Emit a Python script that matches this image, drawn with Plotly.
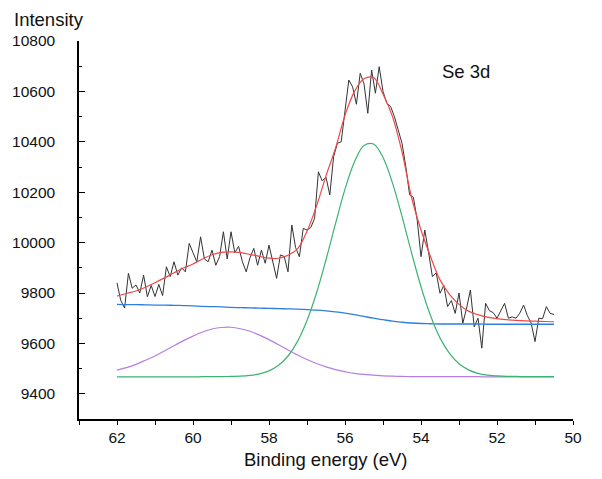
import numpy as np
import plotly.graph_objects as go

# Raw Se 3d spectrum, 62.0 -> 50.5 eV in 0.1 eV steps
raw_counts = [
    9840, 9770, 9740, 9878, 9819, 9832, 9800, 9871, 9785, 9830,
    9786, 9834, 9790, 9904, 9865, 9924, 9871, 9900, 9884, 9997,
    9960, 9924, 10023, 9935, 9924, 9970, 9910, 9945, 10043, 9935,
    10043, 9960, 9985, 9924, 9884, 9940, 9977, 9910, 9970, 9918,
    9990, 9930, 9858, 9951, 9945, 9884, 10070, 9980, 9944, 10056,
    10050, 10060, 10096, 10281, 10245, 10260, 10189, 10341, 10394, 10400,
    10513, 10645, 10618, 10549, 10672, 10630, 10513, 10685, 10593, 10698,
    10600, 10553, 10540, 10500, 10447, 10394, 10302, 10190, 10180, 10090,
    9944, 10050, 9960, 9865, 9880, 9799, 9830, 9746, 9770, 9719,
    9800, 9680, 9740, 9812, 9666, 9700, 9581, 9759, 9730, 9722,
    9700, 9732, 9759, 9700, 9705, 9700, 9720, 9752, 9710, 9680,
    9607, 9700, 9698, 9746, 9719, 9715,
]
raw_energy = np.round(np.linspace(62.0, 50.5, len(raw_counts)), 2)

# Fitted curves, 62.0 -> 50.5 eV in 0.25 eV steps
fit_envelope = [
    9788, 9798, 9808, 9823, 9841, 9860, 9880, 9899, 9915, 9935,
    9952, 9961, 9963, 9960, 9953, 9945, 9938, 9938, 9950, 9975,
    10045, 10145, 10265, 10375, 10505, 10600, 10650, 10655, 10590, 10500,
    10360, 10180, 10050, 9945, 9852, 9795, 9755, 9728, 9714, 9704,
    9698, 9694, 9691, 9689, 9688, 9687, 9686,
]
background = [
    9755, 9754, 9754, 9753, 9752, 9752, 9751, 9750, 9749, 9747,
    9746, 9745, 9743, 9742, 9741, 9740, 9739, 9738, 9737, 9736,
    9734, 9732, 9729, 9725, 9720, 9714, 9707, 9700, 9694, 9688,
    9684, 9681, 9679, 9678, 9677, 9677, 9677, 9677, 9677, 9676,
    9676, 9676, 9676, 9676, 9676, 9676, 9676,
]
peak_se_main = [
    9467, 9467, 9467, 9467, 9467, 9467, 9467, 9467, 9467, 9468,
    9468, 9468, 9469, 9470, 9473, 9479, 9491, 9513, 9550, 9608,
    9691, 9800, 9932, 10075, 10212, 10321, 10385, 10391, 10338, 10236,
    10104, 9960, 9825, 9711, 9622, 9560, 9519, 9495, 9481, 9474,
    9471, 9469, 9469, 9468, 9468, 9468, 9468,
]
peak_se_ox = [
    9494, 9504, 9517, 9533, 9550, 9570, 9591, 9611, 9629, 9645,
    9657, 9663, 9664, 9658, 9648, 9633, 9615, 9595, 9574, 9554,
    9536, 9520, 9507, 9496, 9488, 9481, 9477, 9474, 9471, 9470,
    9469, 9468, 9468, 9468, 9468, 9468, 9468, 9468, 9468, 9467,
    9467, 9467, 9467, 9467, 9467, 9467, 9467,
]
fit_energy = np.round(np.linspace(62.0, 50.5, len(fit_envelope)), 2)

x_ticks = [62, 60, 58, 56, 54, 52, 50]
y_ticks = [9400, 9600, 9800, 10000, 10200, 10400, 10600, 10800]

FONT = "Liberation Sans, Arial, sans-serif"

fig = go.Figure()
fig.add_trace(go.Scatter(x=raw_energy, y=raw_counts, mode="lines",
                         line=dict(color="#333333", width=1), name="raw"))
fig.add_trace(go.Scatter(x=fit_energy, y=background, mode="lines",
                         line=dict(color="#2f7fe0", width=1.3, shape="spline"), name="bg"))
fig.add_trace(go.Scatter(x=fit_energy, y=peak_se_ox, mode="lines",
                         line=dict(color="#b57ee0", width=1.2, shape="spline"), name="p2"))
fig.add_trace(go.Scatter(x=fit_energy, y=peak_se_main, mode="lines",
                         line=dict(color="#3cb371", width=1.2, shape="spline"), name="p1"))
fig.add_trace(go.Scatter(x=fit_energy, y=fit_envelope, mode="lines",
                         line=dict(color="#f04848", width=1.2, shape="spline"), name="fit"))

# page body has an 8 px margin, so the figure starts at (8, 8);
# keep the figure small enough that no scrollbar appears
PW, PH = 494, 378
fig.update_layout(
    width=586, height=463,
    margin=dict(l=71, r=21, t=33, b=52, pad=0, autoexpand=False),
    paper_bgcolor="white", plot_bgcolor="white",
    showlegend=False,
    font=dict(family=FONT, size=15.5, color="#111"),
    xaxis=dict(range=[63, 50], tickmode="array", tickvals=x_ticks,
               ticktext=[str(v) for v in x_ticks], automargin=False,
               ticks="outside", ticklen=4, tickwidth=1.2, tickcolor="black",
               minor=dict(ticks="outside", ticklen=4, tickwidth=1.2, tickcolor="black",
                          tick0=51, dtick=1),
               showline=True, linecolor="black", linewidth=1.5,
               showgrid=False, zeroline=False,
               tickfont=dict(family=FONT, size=15.5, color="#111")),
    yaxis=dict(range=[9300, 10800], tickmode="array", tickvals=y_ticks,
               ticktext=[str(v) for v in y_ticks], automargin=False,
               ticks="inside", ticklen=6, tickwidth=1.2, tickcolor="black",
               minor=dict(ticks="inside", ticklen=3, tickwidth=1.2, tickcolor="black",
                          tick0=9300, dtick=100),
               showline=True, linecolor="black", linewidth=1.5,
               showgrid=False, zeroline=False, ticklabelstandoff=19,
               tickfont=dict(family=FONT, size=15.5, color="#111")),
    annotations=[
        dict(text="Intensity", xref="paper", yref="paper",
             x=(12 - 79) / PW, y=1 + (41 - 19) / PH, xanchor="left", yanchor="middle",
             showarrow=False, font=dict(family=FONT, size=18.5, color="#111")),
        dict(text="Binding energy (eV)", xref="paper", yref="paper",
             x=(325.5 - 79) / PW, y=(419 - 459) / PH, xanchor="center", yanchor="middle",
             showarrow=False, font=dict(family=FONT, size=18.5, color="#111")),
        dict(text="Se 3d", xref="paper", yref="paper",
             x=(465.5 - 79) / PW, y=(419 - 72) / PH, xanchor="center", yanchor="middle",
             showarrow=False, font=dict(family=FONT, size=18.5, color="#111")),
    ],
)

fig.write_html("out.html")
